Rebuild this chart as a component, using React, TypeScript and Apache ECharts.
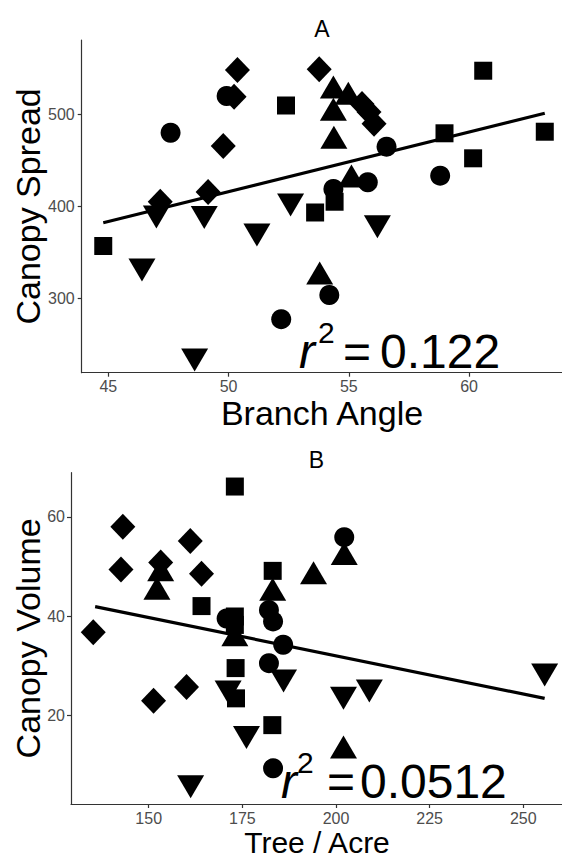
import React, { useEffect, useRef } from "react";
import * as echarts from "echarts";

// ---------- Panel A: Branch Angle vs Canopy Spread ----------
const circlesA = [[47.59, 480.2], [49.92, 520.1], [54.36, 419.0], [55.79, 426.4], [56.57, 465.0], [58.8, 433.5], [54.19, 303.8], [52.19, 277.5]];
const trianglesA = [[54.36, 529.9], [54.98, 523.0], [54.36, 505.7], [54.38, 475.2], [55.11, 433.2], [53.79, 327.7]];
const squaresA = [[52.39, 509.8], [60.59, 547.6], [58.98, 479.6], [63.15, 481.3], [60.17, 452.4], [44.79, 357.1], [53.6, 393.5], [54.41, 405.2]];
const diamondsA = [[50.37, 548.4], [53.77, 549.1], [50.23, 519.3], [49.78, 465.8], [49.15, 415.8], [47.16, 405.2], [55.55, 511.4], [55.84, 502.7], [56.05, 490.0]];
const trianglesDownA = [[47.0, 388.6], [48.99, 388.0], [51.18, 369.0], [52.58, 401.6], [56.19, 378.0], [46.4, 331.0], [48.59, 233.2]];
const fitA = [[44.79, 382.4], [63.15, 501.3]];
const xTicksA = [45, 50, 55, 60];
const yTicksA = [300, 400, 500];
const r2A = "0.122";

// ---------- Panel B: Tree / Acre vs Canopy Volume ----------
const circlesB = [[202.2, 55.9], [170.8, 39.5], [182.1, 41.2], [183.2, 38.9], [185.9, 34.2], [182.1, 30.5], [183.2, 9.3]];
const trianglesB = [[202.2, 52.6], [153.2, 49.3], [152.2, 45.6], [194.0, 48.7], [183.1, 45.4], [173.0, 36.2], [202.0, 13.6]];
const squaresB = [[173.0, 66.1], [183.1, 49.1], [164.1, 42.0], [173.0, 39.9], [173.0, 38.2], [173.2, 29.5], [173.3, 23.4], [183.0, 18.0]];
const diamondsB = [[143.1, 58.0], [161.1, 55.1], [142.6, 49.4], [153.2, 50.8], [164.1, 48.5], [135.2, 36.7], [160.1, 25.7], [151.3, 22.9]];
const trianglesDownB = [[186.0, 26.9], [171.2, 24.7], [202.0, 23.4], [208.9, 24.9], [255.7, 28.1], [176.1, 15.5], [161.2, 5.6]];
const fitB = [[135.7, 41.9], [255.7, 23.4]];
const xTicksB = [150, 175, 200, 225, 250];
const yTicksB = [20, 40, 60];
const r2B = "0.0512";

const FONT = "'Liberation Sans', Arial, Helvetica, sans-serif";

function makeAxis(gridIndex: number, min: number, max: number, ticks: number[], margin: number) {
  return {
    type: "value",
    gridIndex,
    min,
    max,
    splitLine: { show: false },
    axisLine: { show: true, onZero: false, lineStyle: { color: "#333", width: 1.2 } },
    axisTick: { show: true, length: 4, customValues: ticks, lineStyle: { color: "#333", width: 1.2 } },
    axisLabel: { customValues: ticks, margin, fontSize: 16, color: "#4d4d4d", fontFamily: FONT },
  };
}

function scatter(data: number[][], idx: number, symbol: string, size: any, rotate = 0) {
  return {
    type: "scatter",
    xAxisIndex: idx,
    yAxisIndex: idx,
    data,
    symbol,
    symbolSize: size,
    symbolRotate: rotate,
    itemStyle: { color: "#000", opacity: 1 },
    silent: true,
  };
}

function txt(text: string, x: number, y: number, size: number, opts: any = {}) {
  return {
    type: "text",
    x,
    y,
    rotation: opts.rotation || 0,
    silent: true,
    style: {
      text,
      font: `${opts.italic ? "italic " : ""}${size}px ${FONT}`,
      fill: "#000",
      textAlign: opts.align || "center",
      align: opts.align || "center",
      textVerticalAlign: "middle",
      verticalAlign: "middle",
    },
  };
}

export default function App() {
  const ref = useRef<HTMLDivElement>(null);
  useEffect(() => {
    if (!ref.current) return;
    const chart = echarts.init(ref.current, null, { renderer: "svg" });
    const series: any[] = [];
    const groups = [
      [circlesA, trianglesA, squaresA, diamondsA, trianglesDownA, fitA],
      [circlesB, trianglesB, squaresB, diamondsB, trianglesDownB, fitB],
    ];
    groups.forEach((g, i) => {
      series.push(scatter(g[0], i, "circle", 20));
      series.push(scatter(g[1], i, "triangle", [27, 23]));
      series.push(scatter(g[2], i, "rect", 18));
      series.push(scatter(g[3], i, "diamond", [25, 26]));
      series.push(scatter(g[4], i, "triangle", [27, 23], 180));
      series.push({
        type: "line",
        xAxisIndex: i,
        yAxisIndex: i,
        data: g[5],
        symbol: "none",
        silent: true,
        lineStyle: { color: "#000", width: 3.2 },
        z: 3,
      });
    });

    chart.setOption({
      animation: false,
      backgroundColor: "#fff",
      grid: [
        { left: 81.7, top: 40, width: 480.3, height: 332.7, containLabel: false },
        { left: 71, top: 472.7, width: 491, height: 331.3, containLabel: false },
      ],
      xAxis: [makeAxis(0, 43.894, 63.866, xTicksA, 6), makeAxis(1, 129.26, 260.33, xTicksB, 6)],
      yAxis: [makeAxis(0, 219.35, 581.0, yTicksA, 7), makeAxis(1, 2.1, 68.89, yTicksB, 6)],
      series,
      graphic: [
        txt("A", 322, 28.5, 23),
        txt("B", 316.5, 460, 23),
        txt("Branch Angle", 322, 413, 34),
        txt("Tree / Acre", 317, 842, 30),
        txt("Canopy Spread", 28, 206.4, 34, { rotation: Math.PI / 2 }),
        txt("Canopy Volume", 28, 638.4, 34, { rotation: Math.PI / 2 }),
        // r^2 annotations
        txt("r", 299, 351.2, 48, { italic: true, align: "left" }),
        txt("2", 318, 332.5, 30, { align: "left" }),
        txt("=", 343, 351.2, 48, { align: "left" }),
        txt(r2A, 380, 351.2, 48, { align: "left" }),
        txt("r", 281, 781.2, 48, { italic: true, align: "left" }),
        txt("2", 297, 762.5, 30, { align: "left" }),
        txt("=", 327, 781.2, 48, { align: "left" }),
        txt(r2B, 360, 781.2, 48, { align: "left" }),
      ],
    });
    return () => chart.dispose();
  }, []);
  return (
    <div
      ref={ref}
      style={{ position: "absolute", left: 0, top: 0, width: 562, height: 859, background: "#fff" }}
    />
  );
}
